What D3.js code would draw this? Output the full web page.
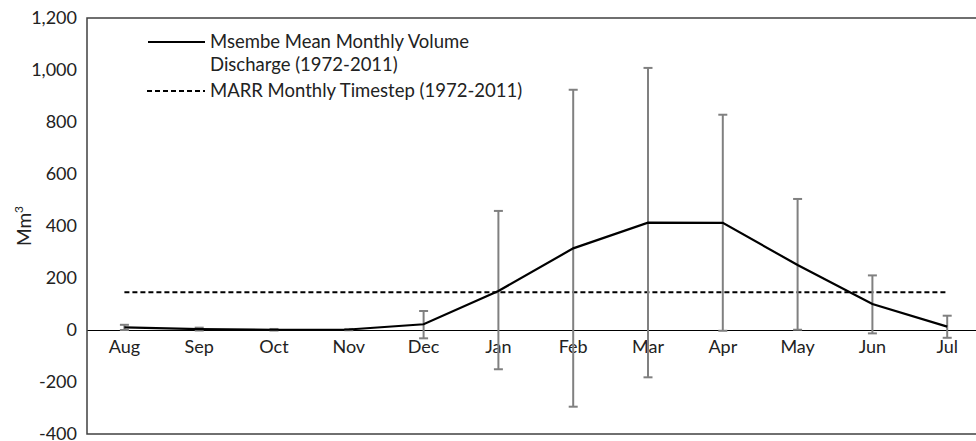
<!DOCTYPE html>
<html>
<head>
<meta charset="utf-8">
<script src="https://cdn.jsdelivr.net/npm/d3@7"></script>
<style>
  body { margin: 0; background: #fff; }
  svg text { font-family: Lato, "Open Sans", sans-serif; fill: #222; }
</style>
</head>
<body>
<div id="chart"></div>
<script>

var months = ["Aug", "Sep", "Oct", "Nov", "Dec", "Jan", "Feb", "Mar", "Apr", "May", "Jun", "Jul"]

// Msembe mean monthly volume discharge (Mm3)
var meanDischarge = [10, 3, 1, 2, 22, 150, 314, 413, 412, 250, 100, 13]

// error bar ends
var errUpper = [20, 9, 4, 4, 73, 458, 924, 1008, 828, 504, 210, 55]
var errLower = [0, -2, -2, -1, -32, -151, -295, -182, -3, 1, -13, -30]

// MARR monthly timestep
var marr = [145, 145, 145, 145, 145, 145, 145, 145, 145, 145, 145, 145]

var yTicks = [-400, -200, 0, 200, 400, 600, 800, 1000, 1200]

var legendLabels = [["Msembe Mean Monthly Volume", "Discharge (1972-2011)"], ["MARR Monthly Timestep (1972-2011)"]]

var width = 976, height = 441
var margin = {top: 18, left: 87, bottom: 434}

var svg = d3.select("#chart").append("svg")
    .attr("width", width)
    .attr("height", height)

var x = d3.scaleBand()
    .domain(months)
    .range([margin.left, margin.left + 897.6])

var xc = function(d) { return x(d) + x.bandwidth() / 2 }

var y = d3.scaleLinear()
    .domain([-400, 1200])
    .range([margin.bottom, margin.top])

var locale = d3.formatLocale({decimal: ".", thousands: ",", grouping: [3], currency: ["", ""], minus: "-"})

// plot frame
svg.append("rect")
    .attr("x", margin.left)
    .attr("y", margin.top)
    .attr("width", 920)
    .attr("height", margin.bottom - margin.top)
    .style("fill", "none")
    .style("stroke", "#404040")
    .style("stroke-width", 1.5)

// y axis labels
var yAxis = svg.append("g")
    .attr("transform", "translate(" + margin.left + ",0)")
    .call(d3.axisLeft(y).tickValues(yTicks).tickSize(0).tickPadding(10).tickFormat(locale.format(",")))

yAxis.select(".domain").remove()
yAxis.selectAll("text").style("font-size", "18px").style("font-family", "Lato, sans-serif").style("fill", "#222")
    .attr("dy", "0.3em")

// zero line + month labels
var xAxis = svg.append("g")
    .attr("transform", "translate(0," + y(0) + ")")
    .call(d3.axisBottom(x).tickSize(0).tickPadding(10))

xAxis.select(".domain").style("stroke", "#000").style("stroke-width", 1.2)
xAxis.selectAll("text").style("font-size", "18px").style("font-family", "Lato, sans-serif").style("fill", "#222")

// y title
svg.append("text")
    .attr("transform", "translate(31,226) rotate(-90)")
    .attr("text-anchor", "middle")
    .style("font-size", "19px")
    .text("Mm")
    .append("tspan")
    .attr("dy", -8)
    .style("font-size", "12px")
    .text("3")

// MARR dashed line
var line = d3.line()
    .x(function(d, i) { return xc(months[i]) })
    .y(function(d) { return y(d) })

svg.append("path")
    .datum(marr)
    .attr("d", line)
    .style("fill", "none")
    .style("stroke", "#000")
    .style("stroke-width", 2)
    .style("stroke-dasharray", "5,3")

// error bars
var bars = svg.append("g")
    .selectAll("g")
    .data(months)
    .enter()
    .append("g")
    .style("stroke", "#808080")
    .style("stroke-width", 2)

bars.append("line")
    .attr("x1", function(d) { return xc(d) })
    .attr("x2", function(d) { return xc(d) })
    .attr("y1", function(d, i) { return y(errUpper[i]) })
    .attr("y2", function(d, i) { return y(errLower[i]) })

bars.append("line")
    .attr("x1", function(d) { return xc(d) - 4.5 })
    .attr("x2", function(d) { return xc(d) + 4.5 })
    .attr("y1", function(d, i) { return y(errUpper[i]) })
    .attr("y2", function(d, i) { return y(errUpper[i]) })

bars.append("line")
    .attr("x1", function(d) { return xc(d) - 4.5 })
    .attr("x2", function(d) { return xc(d) + 4.5 })
    .attr("y1", function(d, i) { return y(errLower[i]) })
    .attr("y2", function(d, i) { return y(errLower[i]) })

// mean discharge line
svg.append("path")
    .datum(meanDischarge)
    .attr("d", line)
    .style("fill", "none")
    .style("stroke", "#000")
    .style("stroke-width", 2.2)

// legend
var legend = svg.append("g")

legend.append("line")
    .attr("x1", 148).attr("x2", 205)
    .attr("y1", 42).attr("y2", 42)
    .style("stroke", "#000").style("stroke-width", 2)

legend.append("line")
    .attr("x1", 147).attr("x2", 205)
    .attr("y1", 91).attr("y2", 91)
    .style("stroke", "#000").style("stroke-width", 2)
    .style("stroke-dasharray", "5,3")

legend.append("text")
    .attr("x", 210).attr("y", 42)
    .attr("dy", "0.35em")
    .style("font-size", "18.5px")
    .text(legendLabels[0][0])

legend.append("text")
    .attr("x", 210).attr("y", 65)
    .attr("dy", "0.35em")
    .style("font-size", "18.5px")
    .text(legendLabels[0][1])

legend.append("text")
    .attr("x", 210).attr("y", 91)
    .attr("dy", "0.35em")
    .style("font-size", "18.5px")
    .text(legendLabels[1][0])

</script>
</body>
</html>
